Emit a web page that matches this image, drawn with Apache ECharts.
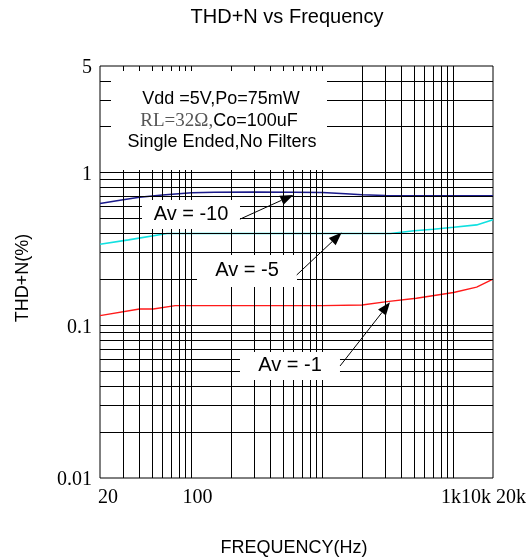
<!DOCTYPE html>
<html><head><meta charset="utf-8">
<script src="https://cdn.jsdelivr.net/npm/echarts@6/dist/echarts.min.js"></script>
<style>html,body{margin:0;padding:0;background:#fff}#c{width:531px;height:560px}</style>
</head><body><div id="c"></div>
<script>
// ---- data ----
const freqAv10 = [20, 30, 40, 60, 100, 150, 300, 600, 1000, 1500, 2000, 3000, 4000, 10000, 20000];
const thdAv10  = [0.628, 0.665, 0.69, 0.715, 0.738, 0.745, 0.748, 0.745, 0.742, 0.728, 0.717, 0.708, 0.705, 0.705, 0.705];
const freqAv5  = [20, 33, 65, 1000, 3300, 5000, 7000, 10000, 15000, 20000];
const thdAv5   = [0.34, 0.363, 0.40, 0.40, 0.40, 0.417, 0.426, 0.439, 0.455, 0.491];
const freqAv1  = [20, 40, 51, 75, 1000, 2000, 3100, 5200, 10000, 15000, 20000];
const thdAv1   = [0.1157, 0.128, 0.128, 0.1347, 0.1347, 0.136, 0.143, 0.1505, 0.164, 0.178, 0.2005];

const xGridValues = [30,40,50,60,70,80,90,100,200,300,400,500,600,700,800,900,1000,2000,3000,4000,5000,6000,7000,8000,9000,10000];
const yGridValues = [0.02,0.03,0.04,0.05,0.06,0.07,0.08,0.09,0.1,0.2,0.3,0.4,0.5,0.6,0.7,0.8,0.9,1,2,3,4];

const xTickText = ['20', '100', '1k10k 20k'];
const xTickAt   = [20, 100, 20000];
const yTickText = ['0.01', '0.1', '1', '5'];
const yTickAt   = [0.01, 0.1, 1, 5];

const annotText    = ['Av = -10', 'Av = -5', 'Av = -1'];
const annotAtFreq  = [99, 265, 564];
const annotAtThd   = [0.533, 0.2273, 0.0542];
const arrowFromFreq = [234, 635, 1360];
const arrowFromThd  = [0.496, 0.2138, 0.0542];
const arrowToFreq   = [598, 1400, 3272];
const arrowToThd    = [0.715, 0.405, 0.1417];

const titleText = 'THD+N vs Frequency';
const xName = 'FREQUENCY(Hz)';
const yName = 'THD+N(%)';
const noteLine1 = 'Vdd =5V,Po=75mW';
const noteLine2a = 'RL=32\u03A9,';
const noteLine2b = 'Co=100uF';
const noteLine3 = 'Single Ended,No Filters';

// ---- chart ----
const SANS = '"Liberation Sans", Arial, sans-serif';
const SERIF = '"Liberation Serif", "Times New Roman", serif';
const zip = (a, b) => a.map((v, i) => [v, b[i]]);
const boxSizes = [[98, 29], [100, 32], [100, 28]];

const chart = echarts.init(document.getElementById('c'), null, {renderer: 'canvas'});
const option = {
  animation: false,
  backgroundColor: '#fff',
  grid: {left: 100, top: 66, width: 393, height: 412, show: true, borderColor: '#000', borderWidth: 1},
  xAxis: {type: 'log', logBase: 10, min: 20, max: 20000,
    axisLine: {show: false}, axisTick: {show: false}, splitLine: {show: false}, axisLabel: {show: false}},
  yAxis: {type: 'log', logBase: 10, min: 0.01, max: 5,
    axisLine: {show: false}, axisTick: {show: false}, splitLine: {show: false}, axisLabel: {show: false}},
  series: [
    {type: 'line', name: 'grid', data: [], symbol: 'none', z: 1, silent: true,
      markLine: {silent: true, symbol: ['none', 'none'], animation: false, label: {show: false},
        lineStyle: {color: '#000', width: 1, type: 'solid', opacity: 1},
        emphasis: {disabled: true},
        data: xGridValues.map(v => ({xAxis: v})).concat(yGridValues.map(v => ({yAxis: v})))}},
    {type: 'line', name: 'Av=-10', data: zip(freqAv10, thdAv10), symbol: 'none', z: 3,
      lineStyle: {color: '#1a1a8a', width: 1.5}},
    {type: 'line', name: 'Av=-5', data: zip(freqAv5, thdAv5), symbol: 'none', z: 3,
      lineStyle: {color: '#10e0e0', width: 1.6}},
    {type: 'line', name: 'Av=-1', data: zip(freqAv1, thdAv1), symbol: 'none', z: 3,
      lineStyle: {color: '#ff1a1a', width: 1.4}},
    {type: 'line', name: 'annot', data: [], symbol: 'none', z: 10, silent: true,
      markPoint: {silent: true, animation: false,
        data: annotText.map((t, i) => ({name: t, coord: [annotAtFreq[i], annotAtThd[i]],
          symbol: 'rect', symbolSize: boxSizes[i], itemStyle: {color: '#fff'}})),
        label: {show: true, position: 'inside', formatter: '{b}', color: '#000', fontSize: 20, fontFamily: SANS}}}
  ]
};
chart.setOption(option);

const px = (x, y) => chart.convertToPixel({gridIndex: 0}, [x, y]);
const g = [];
// title and axis names
g.push({type: 'text', x: 287, y: 17, z: 100, style: {text: titleText, fontSize: 20, fontFamily: SANS, fill: '#000', align: 'center', verticalAlign: 'middle'}});
g.push({type: 'text', x: 294, y: 548, z: 100, style: {text: xName, fontSize: 18, fontFamily: SANS, fill: '#000', align: 'center', verticalAlign: 'middle'}});
g.push({type: 'text', x: 23, y: 278, rotation: Math.PI / 2, z: 100, style: {text: yName, fontSize: 18, fontFamily: SANS, fill: '#000', align: 'center', verticalAlign: 'middle'}});
// x tick labels
const xOff = [8, 6, 33];
const xAlign = ['center', 'center', 'right'];
xTickText.forEach((t, i) => {
  const p = px(xTickAt[i], 0.01);
  g.push({type: 'text', x: p[0] + xOff[i], y: p[1] + 20, z: 100, style: {text: t, fontSize: 20, fontFamily: SERIF, fill: '#000', align: xAlign[i], verticalAlign: 'middle'}});
});
// y tick labels
yTickText.forEach((t, i) => {
  const p = px(20, yTickAt[i]);
  g.push({type: 'text', x: p[0] - 8, y: p[1] + 2, z: 100, style: {text: t, fontSize: 20, fontFamily: SERIF, fill: '#000', align: 'right', verticalAlign: 'middle'}});
});
// arrows (line + filled head), anchored in data space
arrowFromFreq.forEach((f, i) => {
  const a = px(f, arrowFromThd[i]);
  const b = px(arrowToFreq[i], arrowToThd[i]);
  const dx = b[0] - a[0], dy = b[1] - a[1];
  const len = Math.hypot(dx, dy), ux = dx / len, uy = dy / len;
  const hl = 13, hw = 5;
  const bx = b[0] - ux * hl, by = b[1] - uy * hl;
  g.push({type: 'line', z: 60, shape: {x1: a[0], y1: a[1], x2: bx, y2: by}, style: {stroke: '#000', lineWidth: 1}});
  g.push({type: 'polygon', z: 60, shape: {points: [[b[0], b[1]], [bx - uy * hw, by + ux * hw], [bx + uy * hw, by - ux * hw]]}, style: {fill: '#000'}});
});
// condition note box
g.push({type: 'rect', z: 50, shape: {x: 111, y: 71, width: 216, height: 99}, style: {fill: '#fff'}});
g.push({type: 'text', x: 221, y: 99, z: 51, style: {text: noteLine1, fontSize: 18, fontFamily: SANS, fill: '#000', align: 'center', verticalAlign: 'middle'}});
g.push({type: 'text', x: 219, y: 121, z: 51, style: {
  text: '{a|' + noteLine2a + '}{b|' + noteLine2b + '}', align: 'center', verticalAlign: 'middle',
  rich: {a: {fontSize: 19, fontFamily: SERIF, fill: '#555', color: '#555'}, b: {fontSize: 18, fontFamily: SANS, fill: '#000', color: '#000'}}}});
g.push({type: 'text', x: 222, y: 142, z: 51, style: {text: noteLine3, fontSize: 18, fontFamily: SANS, fill: '#000', align: 'center', verticalAlign: 'middle'}});
chart.setOption({graphic: g});
</script></body></html>
